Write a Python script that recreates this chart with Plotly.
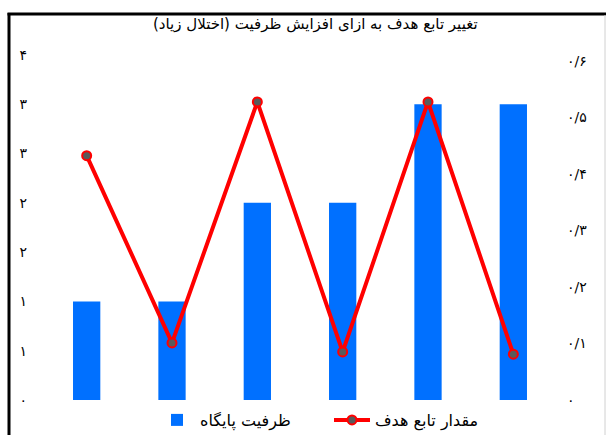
import plotly.graph_objects as go

categories = ["1", "2", "3", "4", "5", "6"]
capacity = [1, 1, 2, 2, 3, 3]
objective = [0.432, 0.101, 0.527, 0.085, 0.527, 0.081]

left_tickvals = [0, 0.5, 1, 1.5, 2, 2.5, 3, 3.5]
left_ticktext = ["۰", "۱", "۱", "۲", "۲", "۳", "۳", "۴"]
right_tickvals = [0, 0.1, 0.2, 0.3, 0.4, 0.5, 0.6]
right_ticktext = ["۰", "۰/۱", "۰/۲", "۰/۳", "۰/۴", "۰/۵", "۰/۶"]

title_text = "تغییر تابع هدف به ازای افزایش ظرفیت (اختلال زیاد)"
bar_name = "ظرفیت پایگاه"
line_name = "مقدار تابع هدف"

FONT = "DejaVu Sans"

fig = go.Figure()
fig.add_trace(go.Bar(
    x=categories, y=capacity, name=bar_name,
    marker=dict(color="#0070FF", line=dict(width=0)),
    yaxis="y",
))
fig.add_trace(go.Scatter(
    x=categories, y=objective, name=line_name, mode="lines+markers",
    line=dict(color="#FF0000", width=4),
    marker=dict(symbol="circle", size=9, color="#5A5A5A", line=dict(color="#FF0000", width=2)),
    yaxis="y2",
))

W, H = 606, 435
ml, mr, mt, mb = 44, 50, 55, 35
pw = W - ml - mr
ph = H - mt - mb

def px(x):
    return (x - ml) / pw

def py(y):
    return (H - mb - y) / ph

fig.update_layout(
    width=W, height=H,
    margin=dict(l=ml, r=mr, t=mt, b=mb, pad=0, autoexpand=False),
    paper_bgcolor="white", plot_bgcolor="white",
    font=dict(family=FONT, color="black", size=13),
    bargap=0.68,
    showlegend=True,
    legend=dict(orientation="h", x=px(154), xanchor="left", y=py(420), yanchor="middle",
                font=dict(size=16, family=FONT), bgcolor="rgba(0,0,0,0)",
                itemwidth=36, entrywidth=124, tracegroupgap=0),
    xaxis=dict(showticklabels=False, showgrid=False, zeroline=False, showline=False, ticks=""),
    yaxis=dict(range=[0, 3.5], tickvals=left_tickvals, ticktext=left_ticktext,
               showgrid=False, zeroline=False, showline=False, ticks="",
               tickfont=dict(size=14, family=FONT), ticklabelstandoff=16),
    yaxis2=dict(range=[0, 0.61], overlaying="y", side="right", tickvals=right_tickvals,
                ticktext=right_ticktext, showgrid=False, zeroline=False, showline=False,
                ticks="", tickfont=dict(size=14, family=FONT), ticklabelstandoff=10),
    annotations=[dict(text=title_text, xref="paper", yref="paper", x=px(315), y=py(24),
                      xanchor="center", yanchor="middle", showarrow=False,
                      font=dict(size=15, family=FONT))],
    shapes=[
        dict(type="line", xref="paper", yref="paper", x0=px(7.5), x1=px(606), y0=py(14), y1=py(14),
             line=dict(color="black", width=3)),
        dict(type="line", xref="paper", yref="paper", x0=px(9), x1=px(9), y0=py(13), y1=py(440),
             line=dict(color="black", width=3)),
        dict(type="line", xref="paper", yref="paper", x0=px(605), x1=px(605), y0=py(15), y1=py(440),
             line=dict(color="#D0D0D0", width=1)),
    ],
)

fig.write_html("out.html")
